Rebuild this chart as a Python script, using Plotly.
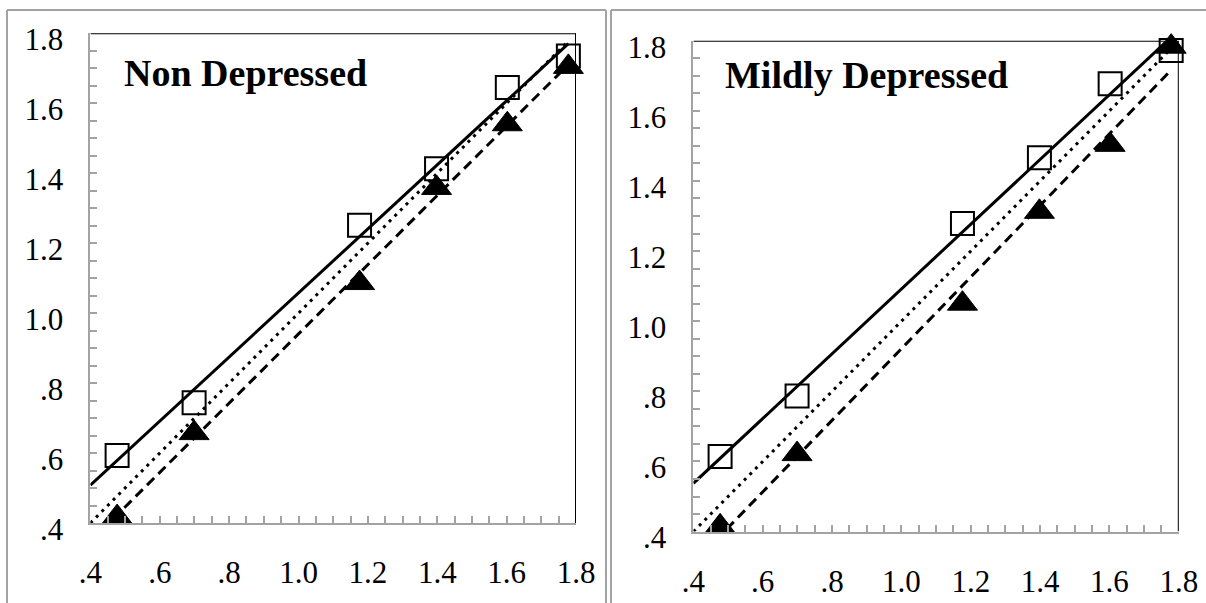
import numpy as np
import plotly.graph_objects as go

# ---- data ----
x_vals = [0.477, 0.699, 1.176, 1.398, 1.602, 1.778]
non_squares = [0.593, 0.744, 1.251, 1.413, 1.645, 1.735]
non_triangles = [0.417, 0.657, 1.086, 1.358, 1.540, 1.704]
mild_squares = [0.614, 0.787, 1.279, 1.466, 1.677, 1.772]
mild_triangles = [0.415, 0.621, 1.050, 1.312, 1.503, 1.783]
panel_titles = ["Non Depressed", "Mildly Depressed"]
tick_vals = [0.4, 0.6, 0.8, 1.0, 1.2, 1.4, 1.6, 1.8]
tick_text = [".4", ".6", ".8", "1.0", "1.2", "1.4", "1.6", "1.8"]
axis_range = [0.4, 1.8]

W, H = 1206, 603
GRAY = "#a3a3a3"
FONT = "Liberation Serif, Times New Roman, serif"

fig = go.Figure()

panels = [
    dict(sq=non_squares, tri=non_triangles, xa="x", ya="y",
         xdom=[90.4 / W, 576 / W], ydom=[1 - 523 / H, 1 - 33.3 / H],
         title_x=122 / W, title_y=1 - 73.5 / H, shift=6),
    dict(sq=mild_squares, tri=mild_triangles, xa="x2", ya="y2",
         xdom=[693.4 / W, 1178.8 / W], ydom=[1 - 531.6 / H, 1 - 40.7 / H],
         title_x=723 / W, title_y=1 - 75 / H, shift=6),
]

shapes = []
annotations = []
for i, p in enumerate(panels):
    xs = np.array(x_vals)
    line_x = [axis_range[0], xs.max()]
    # regression lines
    for ys, dash in [(p["sq"], "solid"), (p["tri"], "10px,6px")]:
        b, a = np.polyfit(xs, np.array(ys), 1)
        fig.add_trace(go.Scatter(
            x=line_x, y=[a + b * v for v in line_x], mode="lines",
            line=dict(color="black", width=3, dash=dash),
            xaxis=p["xa"], yaxis=p["ya"], hoverinfo="skip"))
    # identity line
    fig.add_trace(go.Scatter(
        x=line_x, y=line_x, mode="lines",
        line=dict(color="black", width=3, dash="3px,5px"),
        xaxis=p["xa"], yaxis=p["ya"], hoverinfo="skip"))
    # markers
    fig.add_trace(go.Scatter(
        x=x_vals, y=p["sq"], mode="markers", cliponaxis=False,
        marker=dict(symbol="square-open", size=23, color="black",
                    line=dict(width=2, color="black")),
        xaxis=p["xa"], yaxis=p["ya"]))
    fig.add_trace(go.Scatter(
        x=x_vals, y=p["tri"], mode="markers", cliponaxis=False,
        marker=dict(symbol="triangle-up", size=26, color="black",
                    line=dict(width=1, color="black")),
        xaxis=p["xa"], yaxis=p["ya"]))

    # top & right borders (black)
    shapes.append(dict(type="line", xref=p["xa"], yref=p["ya"],
                       x0=axis_range[0], x1=axis_range[1], y0=axis_range[1], y1=axis_range[1],
                       line=dict(color="black", width=2), layer="below"))
    shapes.append(dict(type="line", xref=p["xa"], yref=p["ya"],
                       x0=axis_range[1], x1=axis_range[1], y0=axis_range[0], y1=axis_range[1],
                       line=dict(color="black", width=2), layer="below"))

    annotations.append(dict(text="<b>%s</b>" % panel_titles[i], xref="paper", yref="paper",
                            x=p["title_x"], y=p["title_y"], xanchor="left", yanchor="middle",
                            showarrow=False, font=dict(family=FONT, size=38, color="black")))

    common = dict(range=axis_range, tickmode="array", tickvals=tick_vals, ticktext=tick_text,
                  ticks="inside", ticklen=7, tickwidth=2, tickcolor=GRAY,
                  showline=True, linecolor=GRAY, linewidth=2, showgrid=False, zeroline=False,
                  tickfont=dict(family=FONT, size=31, color="black"),
                  minor=dict(dtick=0.05, tick0=0.4, ticks="inside", ticklen=7, tickwidth=2,
                             tickcolor=GRAY, showgrid=False),
                  automargin=False, fixedrange=True)
    xkey = "xaxis" if i == 0 else "xaxis2"
    ykey = "yaxis" if i == 0 else "yaxis2"
    fig.layout[xkey] = dict(domain=p["xdom"], anchor=p["ya"], ticklabelstandoff=21, **common)
    fig.layout[ykey] = dict(domain=p["ydom"], anchor=p["xa"], ticklabelstandoff=19,
                            ticklabelshift=p["shift"], **common)

# outer panel frames (gray lines)
frame = dict(color=GRAY, width=2)
top_y = 1 - 10 / H
for x0, x1 in [(7 / W, 606 / W), (611 / W, 1.0)]:
    shapes.append(dict(type="line", xref="paper", yref="paper", x0=x0, x1=x1,
                       y0=top_y, y1=top_y, line=frame))
    shapes.append(dict(type="line", xref="paper", yref="paper", x0=x0, x1=x0,
                       y0=0, y1=top_y, line=frame))
shapes.append(dict(type="line", xref="paper", yref="paper", x0=606 / W, x1=606 / W,
                   y0=0, y1=top_y, line=frame))

fig.update_layout(width=W, height=H, autosize=False,
                  margin=dict(l=0, r=0, t=0, b=0, pad=0, autoexpand=False),
                  paper_bgcolor="white", plot_bgcolor="white", showlegend=False,
                  shapes=shapes, annotations=annotations)

fig.write_html("out.html", config={"displayModeBar": False},
               post_script="document.body.style.margin='0px';")
